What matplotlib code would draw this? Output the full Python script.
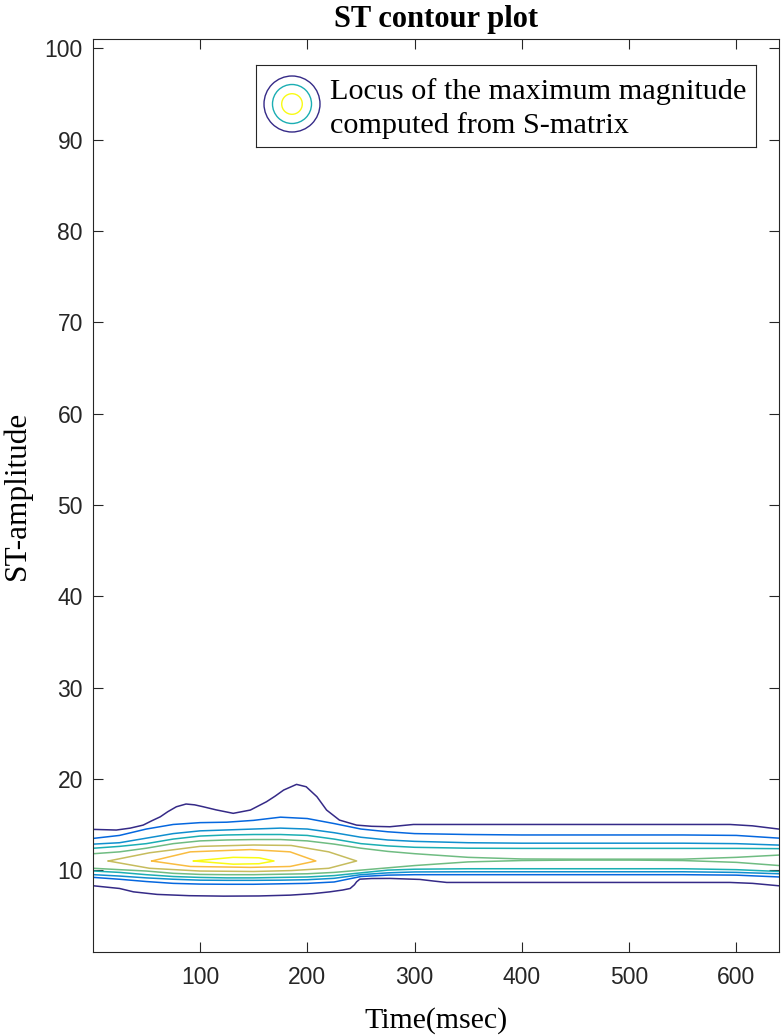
import numpy as np
import matplotlib.pyplot as plt
from matplotlib.colors import LinearSegmentedColormap
from matplotlib.patches import Circle

# contour traces: time (msec) / ST-amplitude pairs
# level 1 (outermost, navy)
l1_up_t = [1, 22, 35, 47, 55, 63, 70, 78, 87, 95, 103, 115, 131, 147, 162, 170, 178, 190,
           199, 209, 218, 230, 246, 260, 277, 299, 594, 615, 640]
l1_up_a = [14.46, 14.39, 14.6, 14.93, 15.4, 15.84, 16.4, 16.94, 17.24, 17.15, 16.94, 16.6,
           16.22, 16.58, 17.49, 18.1, 18.77, 19.39, 19.13, 18.04, 16.58, 15.48, 14.93, 14.8,
           14.75, 15.0, 15.0, 14.85, 14.49]
l1_lo_t = [1, 25, 38, 60, 90, 122, 155, 184, 205, 221, 233, 240, 244, 246, 249, 260, 277,
           305, 318, 330, 594, 615, 640]
l1_lo_a = [8.28, 7.99, 7.62, 7.34, 7.2, 7.15, 7.17, 7.26, 7.42, 7.62, 7.82, 7.99, 8.4,
           8.72, 9.01, 9.08, 9.09, 8.98, 8.8, 8.65, 8.65, 8.55, 8.28]

# open levels 2..5, sampled on common time knots
knots = [1, 25, 50, 75, 100, 125, 150, 175, 200, 225, 250, 275, 300, 350, 400, 450, 500, 550, 600, 640]
l2_up = [13.48, 13.8, 14.5, 15.0, 15.2, 15.25, 15.45, 15.8, 15.65, 15.1, 14.5, 14.2, 14.0, 13.9, 13.85, 13.85, 13.85, 13.85, 13.8, 13.5]
l2_lo = [9.2, 9.0, 8.75, 8.55, 8.47, 8.45, 8.45, 8.5, 8.55, 8.7, 9.3, 9.45, 9.5, 9.5, 9.5, 9.5, 9.5, 9.5, 9.45, 9.25]
l3_up = [12.85, 13.0, 13.5, 14.0, 14.3, 14.4, 14.5, 14.6, 14.5, 14.1, 13.6, 13.3, 13.15, 13.0, 12.95, 12.95, 12.95, 12.95, 12.9, 12.74]
l3_lo = [9.5, 9.35, 9.15, 9.0, 8.9, 8.88, 8.88, 8.9, 8.95, 9.1, 9.5, 9.7, 9.8, 9.82, 9.82, 9.82, 9.82, 9.82, 9.75, 9.6]
l4_up = [12.4, 12.6, 12.9, 13.4, 13.73, 13.85, 13.9, 13.9, 13.8, 13.4, 12.9, 12.65, 12.5, 12.4, 12.38, 12.38, 12.38, 12.38, 12.38, 12.35]
l4_lo = [9.9, 9.75, 9.5, 9.3, 9.2, 9.15, 9.15, 9.2, 9.25, 9.4, 9.7, 10.0, 10.1, 10.15, 10.15, 10.15, 10.15, 10.15, 10.05, 9.85]
l5_up = [11.8, 12.0, 12.4, 12.9, 13.2, 13.3, 13.35, 13.35, 13.2, 12.85, 12.4, 12.05, 11.8, 11.4, 11.22, 11.2, 11.2, 11.2, 11.4, 11.65]
l5_lo = [10.2, 10.05, 9.9, 9.65, 9.53, 9.5, 9.5, 9.55, 9.6, 9.75, 10.0, 10.25, 10.5, 10.9, 11.05, 11.1, 11.1, 11.05, 10.85, 10.5]

# closed levels 6..8 (olive, orange, yellow)
l6_t = [14.6, 53, 100, 150, 185, 220, 246, 220, 185, 150, 100, 53, 14.6]
l6_a = [11.0, 11.9, 12.6, 12.75, 12.7, 12.0, 11.0, 10.2, 9.95, 9.85, 9.9, 10.2, 11.0]
l7_t = [55, 91, 147, 184, 208, 184, 147, 91, 55]
l7_a = [11.0, 12.0, 12.25, 12.0, 11.0, 10.4, 10.3, 10.4, 11.0]
l8_t = [94, 131, 155, 169, 155, 131, 94]
l8_a = [11.0, 11.4, 11.35, 11.0, 10.7, 10.65, 11.0]

legend_lines = ['Locus of the maximum magnitude', 'computed from S-matrix']

parula = LinearSegmentedColormap.from_list('parula', [
    (0.208, 0.166, 0.529), (0.012, 0.388, 0.882), (0.078, 0.522, 0.831),
    (0.024, 0.651, 0.759), (0.216, 0.722, 0.620), (0.591, 0.749, 0.431),
    (0.852, 0.730, 0.337), (0.993, 0.740, 0.239), (0.977, 0.984, 0.081)])
cols = [parula(i / 7) for i in range(8)]

plt.rcParams['font.family'] = ['Liberation Sans', 'DejaVu Sans']
serif = ['Liberation Serif', 'DejaVu Serif']
dark = '#262626'

fig = plt.figure(figsize=(7.81, 10.36), dpi=100)
ax = fig.add_axes([0.1187, 0.0808, 0.8791, 0.8813])

lw = 1.1
ax.plot(l1_up_t, l1_up_a, color=cols[0], lw=lw)
ax.plot(l1_lo_t, l1_lo_a, color=cols[0], lw=lw)
for c, up, lo in zip(cols[1:5], [l2_up, l3_up, l4_up, l5_up], [l2_lo, l3_lo, l4_lo, l5_lo]):
    ax.plot(knots, up, color=c, lw=lw)
    ax.plot(knots, lo, color=c, lw=lw)
ax.plot(l6_t, l6_a, color=cols[5], lw=lw)
ax.plot(l7_t, l7_a, color=cols[6], lw=lw)
ax.plot(l8_t, l8_a, color=cols[7], lw=lw)

ax.set_xlim(0, 640)
ax.set_ylim(1, 101)
ax.set_xticks(range(100, 601, 100))
ax.set_yticks(range(10, 101, 10))
ax.tick_params(direction='in', length=7, width=0.8, top=True, right=True,
               labelsize=16.5, colors=dark, pad=7)
ax.tick_params(axis='x', pad=10)
for s in ax.spines.values():
    s.set_color(dark)
    s.set_linewidth(0.8)

ax.set_title('ST contour plot', family=serif, fontsize=22, fontweight='bold', pad=9)
ax.set_xlabel('Time(msec)', family=serif, fontsize=21.5, labelpad=13)
ax.set_ylabel('ST-amplitude', family=serif, fontsize=22.5, labelpad=9)

# legend box drawn in its own pixel-sized axes so the rings stay round
lax = fig.add_axes([256 / 781, 1 - 147 / 1036, 500 / 781, 82 / 1036])
lax.set_xlim(0, 500)
lax.set_ylim(0, 82)
lax.set_xticks([])
lax.set_yticks([])
for s in lax.spines.values():
    s.set_color(dark)
    s.set_linewidth(0.8)
for r, c in [(28, cols[0]), (19.5, cols[3]), (10.3, cols[7])]:
    lax.add_patch(Circle((36, 43), r, fill=False, edgecolor=c, lw=1.0))
lax.text(74, 48, legend_lines[0], family=serif, fontsize=21.8, va='baseline')
lax.text(74, 13.7, legend_lines[1], family=serif, fontsize=21.8, va='baseline')

fig.savefig('out.png', dpi=100)
